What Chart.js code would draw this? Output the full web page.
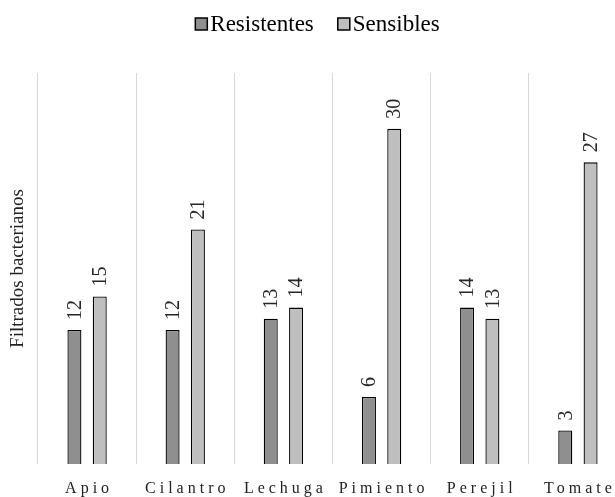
<!DOCTYPE html>
<html>
<head>
<meta charset="utf-8">
<script src="https://cdn.jsdelivr.net/npm/chart.js@4"></script>
<style>
  html, body { margin: 0; padding: 0; background: #fff; overflow: hidden; }
  #wrap { width: 627px; height: 497px; }
</style>
</head>
<body>
<div id="wrap"><canvas id="barChart"></canvas></div>
<script>
const categories = ["Apio", "Cilantro", "Lechuga", "Pimiento", "Perejil", "Tomate"];
const resistentes = [12, 12, 13, 6, 14, 3];
const sensibles = [15, 21, 14, 30, 13, 27];
const yTitle = "Filtrados bacterianos";

const serif = "'Liberation Serif', 'Times New Roman', serif";

// rotated value labels above each bar
const valueLabels = {
  id: "valueLabels",
  afterDatasetsDraw(chart) {
    const ctx = chart.ctx;
    ctx.save();
    ctx.font = "20px " + serif;
    ctx.fillStyle = "#262626";
    ctx.textAlign = "left";
    ctx.textBaseline = "middle";
    chart.data.datasets.forEach((ds, i) => {
      chart.getDatasetMeta(i).data.forEach((bar, j) => {
        ctx.save();
        ctx.translate(bar.x, bar.y - 10);
        ctx.rotate(-Math.PI / 2);
        ctx.fillText(ds.data[j], 0, 1);
        ctx.restore();
      });
    });
    ctx.restore();
  }
};

// category labels with wide letter spacing + legend drawn by hand
const extras = {
  id: "extras",
  afterDraw(chart) {
    const ctx = chart.ctx;
    const xs = chart.scales.x;
    ctx.save();
    ctx.font = "16px " + serif;
    ctx.letterSpacing = "4px";
    ctx.fillStyle = "#222";
    ctx.textAlign = "center";
    ctx.textBaseline = "middle";
    categories.forEach((c, i) => {
      ctx.fillText(c, xs.getPixelForValue(i) + 2, 489);
    });
    ctx.restore();

    // legend
    ctx.save();
    ctx.font = "23px " + serif;
    ctx.textBaseline = "middle";
    ctx.textAlign = "left";
    const box = 12, gapText = 3, gapItem = 24;
    const items = chart.data.datasets.map(ds => ({
      text: ds.label, color: ds.backgroundColor, w: ctx.measureText(ds.label).width
    }));
    let total = 0;
    items.forEach((it, k) => { total += box + gapText + it.w + (k ? gapItem : 0); });
    let x = chart.width / 2 + 4 - total / 2;
    const cy = 24;
    items.forEach(it => {
      ctx.fillStyle = it.color;
      ctx.fillRect(x, cy - box / 2, box, box);
      ctx.strokeStyle = "#000";
      ctx.lineWidth = 1.5;
      ctx.strokeRect(x, cy - box / 2, box, box);
      ctx.fillStyle = "#000";
      ctx.fillText(it.text, x + box + gapText, cy + 1);
      x += box + gapText + it.w + gapItem;
    });
    ctx.restore();
  }
};

document.addEventListener("DOMContentLoaded", function () {
  const ctx = document.getElementById("barChart").getContext("2d");
  new Chart(ctx, {
    type: "bar",
    data: {
      labels: categories,
      datasets: [
        {
          label: "Resistentes",
          data: resistentes,
          backgroundColor: "#8f8f8f",
          borderColor: "#000",
          borderWidth: 1.3,
          categoryPercentage: 0.516,
          barPercentage: 0.553
        },
        {
          label: "Sensibles",
          data: sensibles,
          backgroundColor: "#bfbfbf",
          borderColor: "#000",
          borderWidth: 1.3,
          categoryPercentage: 0.516,
          barPercentage: 0.553
        }
      ]
    },
    options: {
      responsive: true,
      maintainAspectRatio: false,
      animation: false,
      layout: { padding: { top: 73, right: 0, bottom: 0, left: 0 } },
      plugins: {
        legend: { display: false },
        tooltip: { enabled: false }
      },
      scales: {
        x: {
          ticks: { display: false },
          grid: { offset: true, color: "#d9d9d9", lineWidth: 1, drawTicks: false },
          border: { display: false },
          afterFit(scale) { scale.height = 33; }
        },
        y: {
          min: 0,
          max: 35,
          ticks: { display: false },
          grid: { display: false },
          border: { display: false },
          title: {
            display: true,
            text: yTitle,
            color: "#222",
            padding: { top: 7, bottom: 0 },
            font: { family: serif, size: 19 }
          },
          afterFit(scale) { scale.width = 38; }
        }
      }
    },
    plugins: [valueLabels, extras]
  });
});
</script>
</body>
</html>
